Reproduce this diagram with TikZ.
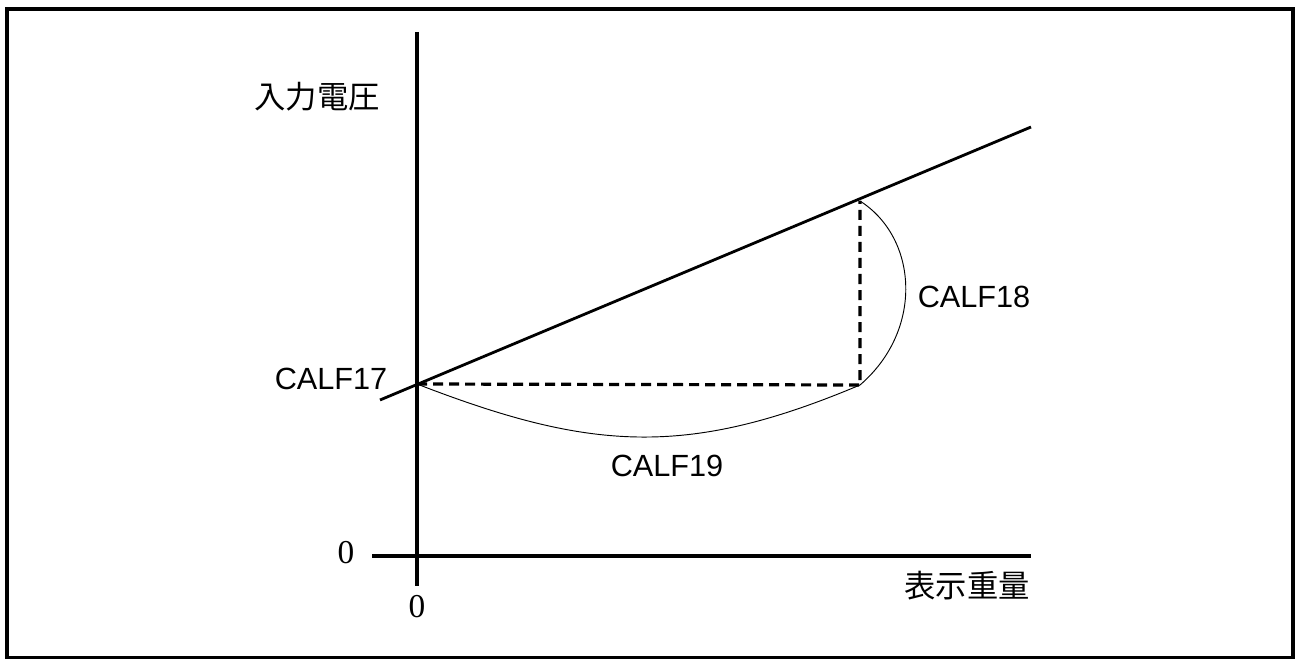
\documentclass[tikz,border=0pt]{standalone}
\usepackage{fontspec}
\setmainfont{Liberation Serif}
\setsansfont{Liberation Sans}
\newfontfamily\jpfont{Noto Sans CJK JP}
\usetikzlibrary{positioning}
\tikzset{
  frame/.style={draw, line width=2.4pt},
  axis/.style={line width=2.4pt},
  trendline/.style={line width=2.1pt},
  guide/.style={line width=2.4pt, dash pattern=on 7.5pt off 4.5pt},
  curve/.style={line width=0.7pt},
  calf/.style={font=\sffamily\fontsize{23}{25}\selectfont, inner sep=0pt},
  zero/.style={font=\rmfamily\fontsize{25}{27}\selectfont, inner sep=0pt},
  jplabel/.style={font=\jpfont\fontsize{23.5}{26}\selectfont, inner sep=0pt}
}

\begin{document}
\begin{tikzpicture}[x=0.75pt, y=-0.75pt]
  \useasboundingbox (0,0) rectangle (1296,659);
  \draw[frame] (7,9) rectangle (1293,658);
  % axes
  \coordinate (ytop) at (417,32);
  \coordinate (ybot) at (417,586);
  \coordinate (xleft) at (372,556);
  \coordinate (xright) at (1031,556);
  \draw[axis] (ytop) -- (ybot);
  \draw[axis] (xleft) -- (xright);
  % characteristic line and calibration points
  \coordinate (lstart) at (380,400);
  \coordinate (lend) at (1031,127);
  \coordinate (p17) at (417,384);
  \coordinate (p18) at (860,201);
  \coordinate (corner) at (860,385);
  \draw[trendline] (lstart) -- (lend);
  \draw[guide] (p17) -- (corner) -- (p18);
  \draw[curve] (p18) .. controls (918,238) and (924,330) .. (corner);
  \draw[curve] (p17) .. controls (590,451) and (687,458) .. (corner);
  % labels
  \node[jplabel] (ylabel) at (317,97) {入力電圧};
  \node[jplabel, anchor=east] (xlabel) at (1030,586) {表示重量};
  \node[zero] (yzero) at (346,553) {0};
  \node[zero] (xzero) at (417,607) {0};
  \node[calf] (c17) at (331,379) {CALF17};
  \node[calf] (c18) at (974,297) {CALF18};
  \node[calf] (c19) at (667,466) {CALF19};
\end{tikzpicture}
\end{document}
